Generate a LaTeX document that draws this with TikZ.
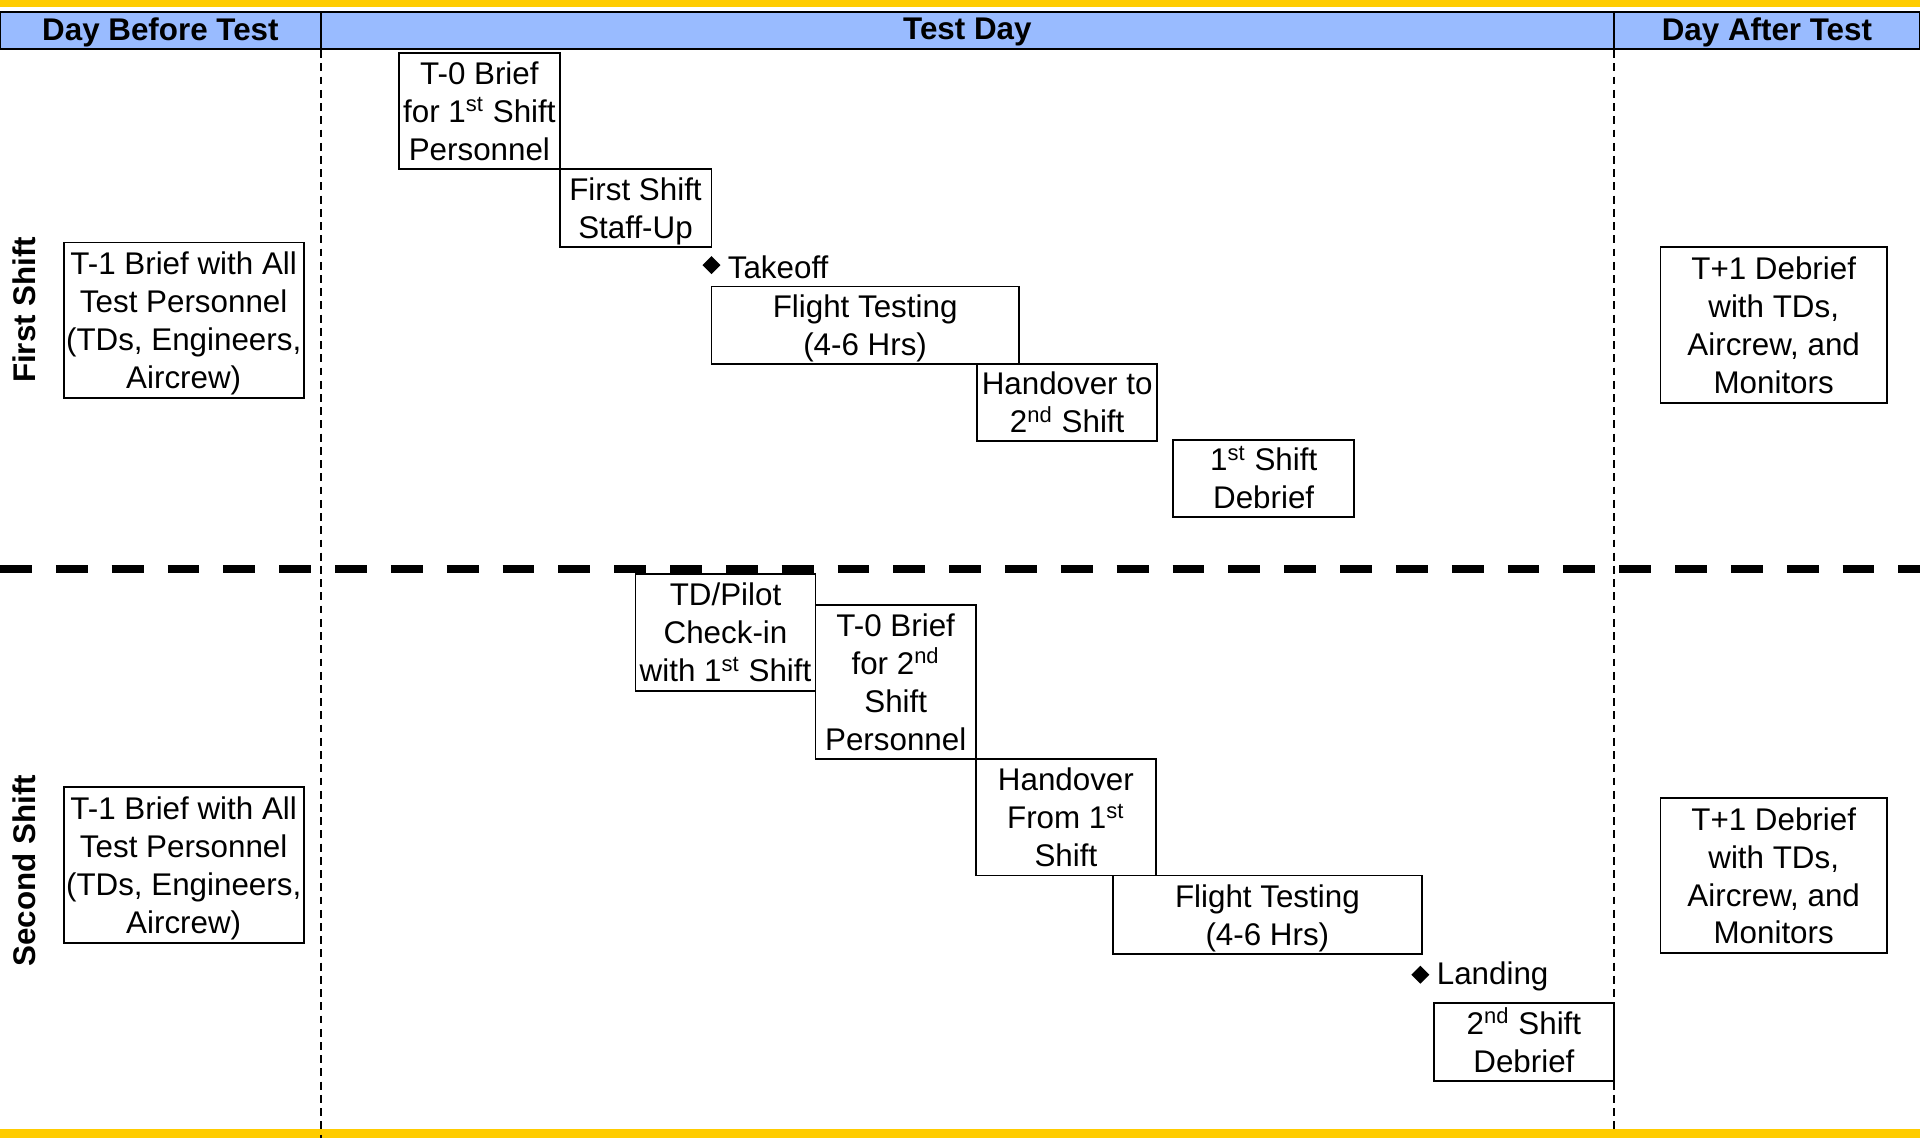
\documentclass[tikz,border=0pt]{standalone}
\usepackage{fontspec}
\setmainfont{Liberation Sans}
\usetikzlibrary{shapes.geometric}
\definecolor{hblue}{RGB}{153,187,255}
\definecolor{hyellow}{RGB}{255,204,0}
\newcommand{\bxt}[1]{\raisebox{-1.6pt}[\height][\depth]{\begin{tabular}{@{}c@{}}#1\end{tabular}}}
\tikzset{
  box/.style={draw=black, line width=0.75pt, inner sep=0pt,
    font=\fontsize{12.8}{15.5}\selectfont},
  head/.style={font=\fontsize{12.8}{15}\selectfont\bfseries, inner sep=0pt},
  rowlab/.style={font=\fontsize{12.8}{15}\selectfont\bfseries, rotate=90, inner sep=0pt},
  vdash/.style={line width=0.8pt, dash pattern=on 3.2pt off 2.2pt},
  hdash/.style={line width=3.3pt, dash pattern=on 13pt off 9.8pt},
  msl/.style={font=\fontsize{12.8}{15.5}\selectfont, inner sep=0pt, anchor=west},
  milestone/.style={diamond, fill=black, inner sep=0pt, minimum size=7.5pt}
}
\begin{document}
\begin{tikzpicture}[x=0.5pt, y=-0.5pt]
\useasboundingbox (0,0) rectangle (1568,929.3);
% bands
\fill[hyellow] (0,0) rectangle (1568,5.5);
\fill[hyellow] (0,922) rectangle (1568,929.3);
\draw[fill=hblue, line width=0.9pt] (0,9.5) rectangle (1568,40);
\draw[line width=0.9pt] (262,9.5) -- (262,40);
\draw[line width=0.9pt] (1318,9.5) -- (1318,40);
\node[head] (hbefore) at (131,26.5) {Day Before Test};
\node[head] (htest) at (790,26.5) {Test Day};
\node[head] (hafter) at (1443,26.5) {Day After Test};
% grid lines
\draw[vdash] (262,41) -- (262,929.3);
\draw[vdash] (1318,41) -- (1318,922);
\draw[hdash] (0,465) -- (1568,465);
% row labels
\node[rowlab] (rfirst) at (20,253) {First Shift};
\node[rowlab] (rsecond) at (20,711) {Second Shift};
% first shift
\node[box, minimum width=98pt, minimum height=63.5pt] (t1a) at (150,261.5)
  {\bxt{T-1 Brief with All\\Test Personnel\\(TDs, Engineers,\\Aircrew)}};
\node[box, minimum width=65.5pt, minimum height=47.5pt] (t0a) at (391.5,90.5)
  {\bxt{T-0 Brief\\for 1\textsuperscript{st} Shift\\Personnel}};
\node[box, minimum width=62pt, minimum height=32pt] (staff) at (519,170)
  {\bxt{First Shift\\Staff-Up}};
\node[milestone] (tkd) at (581,216.5) {};
\node[msl] (tk) at (594,218) {Takeoff};
\node[box, minimum width=125.5pt, minimum height=31.5pt] (fta) at (706.5,265.5)
  {\bxt{Flight Testing\\(4-6 Hrs)}};
\node[box, minimum width=73.5pt, minimum height=31.5pt] (hoa) at (871.5,328.5)
  {\bxt{Handover to\\2\textsuperscript{nd} Shift}};
\node[box, minimum width=74pt, minimum height=31.5pt] (deba) at (1032,390.5)
  {\bxt{1\textsuperscript{st} Shift\\Debrief}};
\node[box, minimum width=92.5pt, minimum height=63.5pt] (tp1a) at (1448.5,265.5)
  {\bxt{T+1 Debrief\\with TDs,\\Aircrew, and\\Monitors}};
% second shift
\node[box, minimum width=98pt, minimum height=63.5pt] (t1b) at (150,706.5)
  {\bxt{T-1 Brief with All\\Test Personnel\\(TDs, Engineers,\\Aircrew)}};
\node[box, minimum width=73.5pt, minimum height=47.5pt] (check) at (592.5,516.5)
  {\bxt{TD/Pilot\\Check-in\\with 1\textsuperscript{st} Shift}};
\node[box, minimum width=65.5pt, minimum height=63pt] (t0b) at (731.5,557)
  {\bxt{T-0 Brief\\for 2\textsuperscript{nd}\\Shift\\Personnel}};
\node[box, minimum width=73.5pt, minimum height=47.5pt] (hob) at (870.5,667.5)
  {\bxt{Handover\\From 1\textsuperscript{st}\\Shift}};
\node[box, minimum width=126pt, minimum height=32pt] (ftb) at (1035,747)
  {\bxt{Flight Testing\\(4-6 Hrs)}};
\node[milestone] (ldd) at (1160,796) {};
\node[msl] (ld) at (1173,797.5) {Landing};
\node[box, minimum width=73.5pt, minimum height=32pt] (debb) at (1244.5,851)
  {\bxt{2\textsuperscript{nd} Shift\\Debrief}};
\node[box, minimum width=92.5pt, minimum height=63pt] (tp1b) at (1448.5,715)
  {\bxt{T+1 Debrief\\with TDs,\\Aircrew, and\\Monitors}};
\end{tikzpicture}
\end{document}
